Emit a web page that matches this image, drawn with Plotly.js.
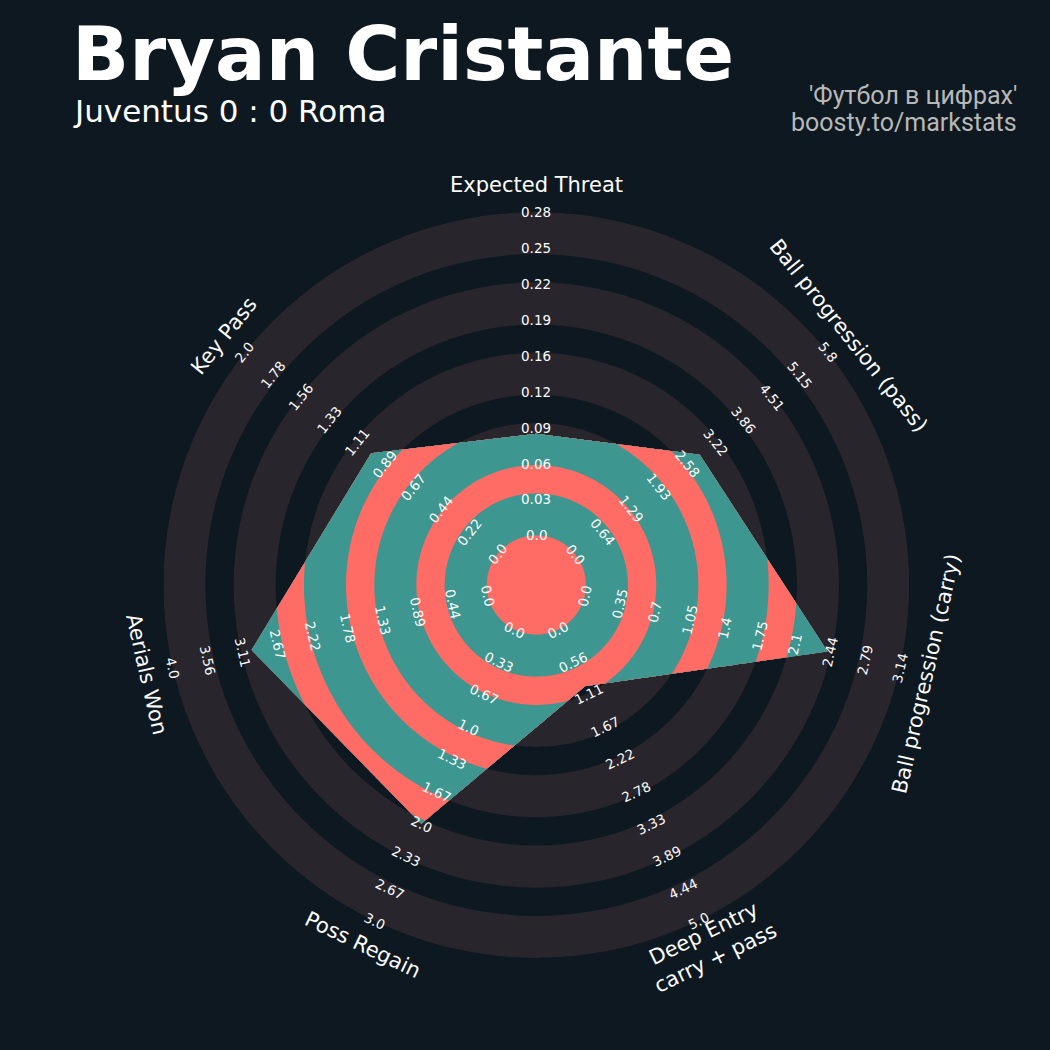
<!DOCTYPE html>
<html>
<head>
<meta charset="utf-8">
<script src="https://cdn.plot.ly/plotly-3.0.1.min.js"></script>
<style>html,body{margin:0;padding:0;background:#0e1820;}</style>
</head>
<body>
<div id="chart" style="width:1050px;height:1050px;"></div>
<script>
// ---------------- data ----------------
const params = ["Expected Threat", "Ball progression (pass)", "Ball progression (carry)",
                "Deep Entry<br>carry + pass", "Poss Regain", "Aerials Won", "Key Pass"];
const minRange = [0, 0, 0, 0, 0, 0, 0];
const maxRange = [0.28, 5.8, 3.14, 5.0, 3.0, 4.0, 2.0];
const playerValues = [0.088, 2.86, 2.42, 0.97, 2.0, 3.0, 1.0];
const tickLabels = [
  ["0.0","0.03","0.06","0.09","0.12","0.16","0.19","0.22","0.25","0.28"],
  ["0.0","0.64","1.29","1.93","2.58","3.22","3.86","4.51","5.15","5.8"],
  ["0.0","0.35","0.7","1.05","1.4","1.75","2.1","2.44","2.79","3.14"],
  ["0.0","0.56","1.11","1.67","2.22","2.78","3.33","3.89","4.44","5.0"],
  ["0.0","0.33","0.67","1.0","1.33","1.67","2.0","2.33","2.67","3.0"],
  ["0.0","0.44","0.89","1.33","1.78","2.22","2.67","3.11","3.56","4.0"],
  ["0.0","0.22","0.44","0.67","0.89","1.11","1.33","1.56","1.78","2.0"]
];
const titleText = "Bryan Cristante";
const subtitleText = "Juventus 0 : 0 Roma";
const creditLines = ["'Футбол в цифрах'", "boosty.to/markstats"];

// ---------------- style / geometry ----------------
const W = 1050, H = 1050;
const CX = 536.3, CY = 585, RPX = 373;      // radar centre and outer radius in px
const CENTER_R = 1.38;                      // centre disc radius (radial units, 1 unit = 1 label step)
const N_STEPS = 9;
const OUTER = CENTER_R + N_STEPS;
const RING_W = 1.17;
const GAP_W = (N_STEPS - 5 * RING_W) / 4;
const PARAM_R = OUTER + 0.75;
const S = RPX / OUTER;                      // px per radial unit

const BG = "#0e1820", RING = "#28252c", TEAL = "#3d968f", RED = "#ff6c66";

const edges = [CENTER_R];
for (let i = 0; i < 9; i++) edges.push(edges[i] + (i % 2 === 0 ? RING_W : GAP_W));

const n = params.length;
const thetaV = params.map((_, k) => k * 360 / n);
const rV = playerValues.map((v, k) => CENTER_R + N_STEPS * (v - minRange[k]) / (maxRange[k] - minRange[k]));
const toXY = (r, deg) => [r * Math.sin(deg * Math.PI / 180), r * Math.cos(deg * Math.PI / 180)];
const P = rV.map((r, k) => toXY(r, thetaV[k]));
const cross = (u, v) => u[0] * v[1] - u[1] * v[0];
function polyR(deg) {
  const seg = Math.min(n - 1, Math.floor(deg / (360 / n) + 1e-9));
  const a = P[seg], b = P[(seg + 1) % n];
  const E = [b[0] - a[0], b[1] - a[1]];
  return cross(a, E) / cross(toXY(1, deg), E);
}
const sampleDeg = [];
for (let i = 0; i <= 1440; i++) sampleDeg.push(i * 0.25);
thetaV.forEach(t => sampleDeg.push(t));
sampleDeg.sort((a, b) => a - b);

const traces = [];
// background rings
for (let m = 0; m < 5; m++) {
  traces.push({type: "barpolar", r: [RING_W], base: [edges[2 * m]], theta: [0], width: [360],
    marker: {color: RING, line: {width: 0}}, hoverinfo: "skip", showlegend: false});
}
// radar polygon, clipped rings (painter's order, outside in)
for (let j = edges.length - 1; j >= 0; j--) {
  traces.push({type: "scatterpolar", mode: "lines", fill: "toself",
    r: sampleDeg.map(t => Math.min(edges[j], polyR(t))), theta: sampleDeg,
    fillcolor: (j % 2 === 1) ? TEAL : RED, line: {width: 0, color: (j % 2 === 1) ? TEAL : RED},
    hoverinfo: "skip", showlegend: false});
}
// invisible cartesian trace to carry annotation axes
traces.push({type: "scatter", x: [0], y: [0], mode: "markers", marker: {opacity: 0},
  hoverinfo: "skip", showlegend: false, xaxis: "x", yaxis: "y"});

function rot(deg) {
  let d = ((deg % 360) + 360) % 360;
  if (d <= 90) return d;
  if (d >= 270) return d - 360;
  return d - 180;
}

const annotations = [];
params.forEach((p, k) => {
  const [x, y] = toXY(PARAM_R, thetaV[k]);
  annotations.push({xref: "x", yref: "y", x, y, text: p, showarrow: false, textangle: rot(thetaV[k]),
    xanchor: "center", yanchor: "middle", align: "center",
    font: {family: "DejaVu Sans", size: 21, color: "#fcfcfc"}});
  tickLabels[k].forEach((t, i) => {
    const [tx, ty] = toXY(CENTER_R + i, thetaV[k]);
    annotations.push({xref: "x", yref: "y", x: tx, y: ty, text: t, showarrow: false, textangle: rot(thetaV[k]),
      xanchor: "center", yanchor: "middle",
      font: {family: "DejaVu Sans", size: 13.5, color: "#fcfcfc"}});
  });
});
annotations.push({xref: "paper", yref: "paper", x: 71 / W, y: 1 - 111 / H, text: subtitleText, showarrow: false,
  xanchor: "left", yanchor: "middle", font: {family: "DejaVu Sans", size: 31, color: "#ffffff"}});
annotations.push({xref: "paper", yref: "paper", x: 1019 / W, y: 1 - 95 / H, text: creditLines[0], showarrow: false,
  xanchor: "right", yanchor: "middle", font: {family: "Roboto", size: 25, color: "#b8b8b8"}});
annotations.push({xref: "paper", yref: "paper", x: 1019 / W, y: 1 - 122.5 / H, text: creditLines[1], showarrow: false,
  xanchor: "right", yanchor: "middle", font: {family: "Roboto", size: 25, color: "#b8b8b8"}});

const dx = [(CX - RPX) / W, (CX + RPX) / W];
const dy = [(H - CY - RPX) / H, (H - CY + RPX) / H];

const layout = {
  width: W, height: H,
  margin: {l: 0, r: 0, t: 0, b: 0, pad: 0},
  paper_bgcolor: BG, plot_bgcolor: "rgba(0,0,0,0)",
  showlegend: false, hovermode: false,
  title: {text: titleText, x: 72 / W, xref: "paper", xanchor: "left", y: 1 - 54 / H, yref: "container",
    yanchor: "middle", font: {family: "DejaVu Sans", size: 75, color: "#ffffff", weight: "bold"}},
  polar: {
    domain: {x: dx, y: dy}, bgcolor: "rgba(0,0,0,0)", hole: 0,
    radialaxis: {range: [0, OUTER], visible: false, showgrid: false, showline: false, showticklabels: false, ticks: ""},
    angularaxis: {rotation: 90, direction: "clockwise", visible: false, showgrid: false, showline: false, showticklabels: false, ticks: ""}
  },
  xaxis: {domain: [0, 1], range: [-CX / S, (W - CX) / S], visible: false, fixedrange: true, showgrid: false, zeroline: false},
  yaxis: {domain: [0, 1], range: [-(H - CY) / S, CY / S], visible: false, fixedrange: true, showgrid: false, zeroline: false},
  annotations
};

Plotly.newPlot("chart", traces, layout, {displayModeBar: false, staticPlot: true});
</script>
</body>
</html>
